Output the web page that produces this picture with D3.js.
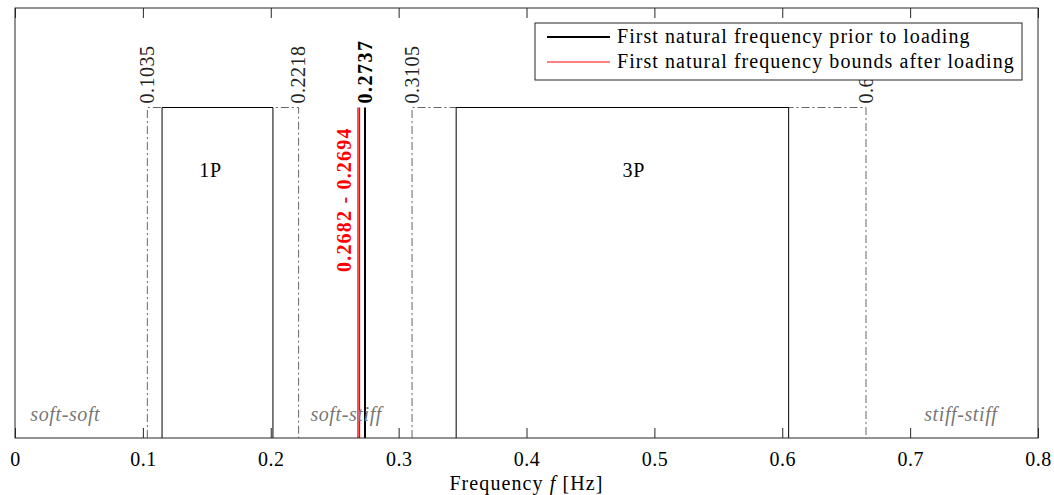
<!DOCTYPE html>
<html><head><meta charset="utf-8">
<script src="https://cdn.jsdelivr.net/npm/d3@7"></script>
<style>body{margin:0;background:#fff}svg{display:block}text{font-family:"Liberation Serif","Times New Roman",serif}</style>
</head><body><svg id="c" width="1054" height="495"></svg>
<script>
const xTicks = [0,0.1,0.2,0.3,0.4,0.5,0.6,0.7,0.8];
const bandNames = ["1P","3P"];
const bandLow = [0.115,0.345];
const bandHigh = [0.2017,0.605];
const bandLabelX = [0.153,0.484];
const marginLow = [0.1035,0.3105];
const marginHigh = [0.2218,0.6655];
const marginLowLabel = ["0.1035","0.3105"];
const marginHighLabel = ["0.2218","0.6655"];
const priorFreq = [0.2737];
const afterBounds = [0.2682,0.2694];
const regionNames = ["soft-soft","soft-stiff","stiff-stiff"];
const regionX = [0.012,0.231,0.711];
const legendLabels = ["First natural frequency prior to loading","First natural frequency bounds after loading"];

const svg = d3.select("#c");
const L=15,R=1038,T=8,B=438;
const x = d3.scaleLinear().domain([0,0.8]).range([L,R]);
const y = d3.scaleLinear().domain([0,1]).range([B,T]);
const boxTop = 0.7686;
const axisCol = "#262626";
const dash = "8,3,2,3";
const FS = 20;

marginLow.forEach((lo,i)=>{
  const hi=marginHigh[i];
  svg.append("path").attr("d",`M${x(lo)},${y(0)}V${y(boxTop)}H${x(hi)}V${y(0)}`)
    .attr("fill","none").attr("stroke","#666").attr("stroke-width",1).attr("stroke-dasharray",dash);
});
bandLow.forEach((lo,i)=>{
  const hi=bandHigh[i];
  svg.append("path").attr("d",`M${x(lo)},${y(0)}V${y(boxTop)}H${x(hi)}V${y(0)}`)
    .attr("fill","none").attr("stroke","#000").attr("stroke-width",1);
  svg.append("text").attr("x",x(bandLabelX[i])).attr("y",y(0.62)+6).attr("text-anchor","middle")
    .attr("font-size",FS).attr("letter-spacing",0.8).text(bandNames[i]);
});
const mlab = (v,t)=>svg.append("text").attr("transform",`translate(${x(v)+6.5},${y(boxTop)-4}) rotate(-90)`)
   .attr("font-size",FS).attr("letter-spacing",0.5).attr("fill","#222").text(t);
marginLow.forEach((v,i)=>mlab(v,marginLowLabel[i]));
marginHigh.forEach((v,i)=>mlab(v,marginHighLabel[i]));

afterBounds.forEach(v=>svg.append("line").attr("x1",x(v)).attr("x2",x(v)).attr("y1",y(0)).attr("y2",y(boxTop))
  .attr("stroke","#ff0000").attr("stroke-width",1.3));
svg.append("text").attr("transform",`translate(${x(afterBounds[0])-6.5},${y(0.386)}) rotate(-90)`)
  .attr("font-size",FS).attr("font-weight","bold").attr("letter-spacing",1.2).attr("fill","#ff0000")
  .text(afterBounds[0].toFixed(4)+" - "+afterBounds[1].toFixed(4));
priorFreq.forEach(v=>{
  svg.append("line").attr("x1",x(v)).attr("x2",x(v)).attr("y1",y(0)).attr("y2",y(boxTop))
    .attr("stroke","#000").attr("stroke-width",2);
  svg.append("text").attr("transform",`translate(${x(v)+7},${y(boxTop)-4}) rotate(-90)`)
    .attr("font-size",FS).attr("font-weight","bold").attr("letter-spacing",1.5).text(v.toFixed(4));
});
regionNames.forEach((n,i)=>svg.append("text").attr("x",x(regionX[i])).attr("y",y(0.04))
  .attr("font-size",FS).attr("letter-spacing",0.6).attr("font-style","italic").attr("fill","#777").text(n));

const gB = svg.append("g").attr("transform",`translate(0,${B})`)
  .call(d3.axisBottom(x).tickValues(xTicks).tickSize(-10).tickPadding(14).tickFormat(d3.format("")));
gB.select(".domain").remove();
gB.selectAll(".tick line").attr("stroke",axisCol);
gB.selectAll(".tick text").attr("font-size",FS).attr("fill","#000").attr("letter-spacing",0.5).style("font-family",'"Liberation Serif",serif');
const gT = svg.append("g").attr("transform",`translate(0,${T})`)
  .call(d3.axisTop(x).tickValues(xTicks).tickSize(-10).tickFormat(""));
gT.select(".domain").remove();
gT.selectAll(".tick line").attr("stroke",axisCol);
svg.append("rect").attr("x",L).attr("y",T).attr("width",R-L).attr("height",B-T)
  .attr("fill","none").attr("stroke",axisCol).attr("stroke-width",1);

svg.append("text").attr("x",(L+R)/2).attr("y",490).attr("text-anchor","middle").attr("font-size",FS)
  .attr("letter-spacing",1.1)
  .html('Frequency <tspan font-style="italic">f</tspan> [Hz]');

const lg = svg.append("g").attr("transform","translate(535,23)");
lg.append("rect").attr("width",487).attr("height",57).attr("fill","#fff").attr("stroke","#262626");
const lcol=["#000","#ff0000"], lw=[2,1];
legendLabels.forEach((t,i)=>{
  lg.append("line").attr("x1",12).attr("x2",75).attr("y1",14+i*25).attr("y2",14+i*25).attr("stroke",lcol[i]).attr("stroke-width",lw[i]);
  lg.append("text").attr("x",82).attr("y",20+i*25).attr("font-size",FS).attr("letter-spacing",1.05).text(t);
});
</script></body></html>
